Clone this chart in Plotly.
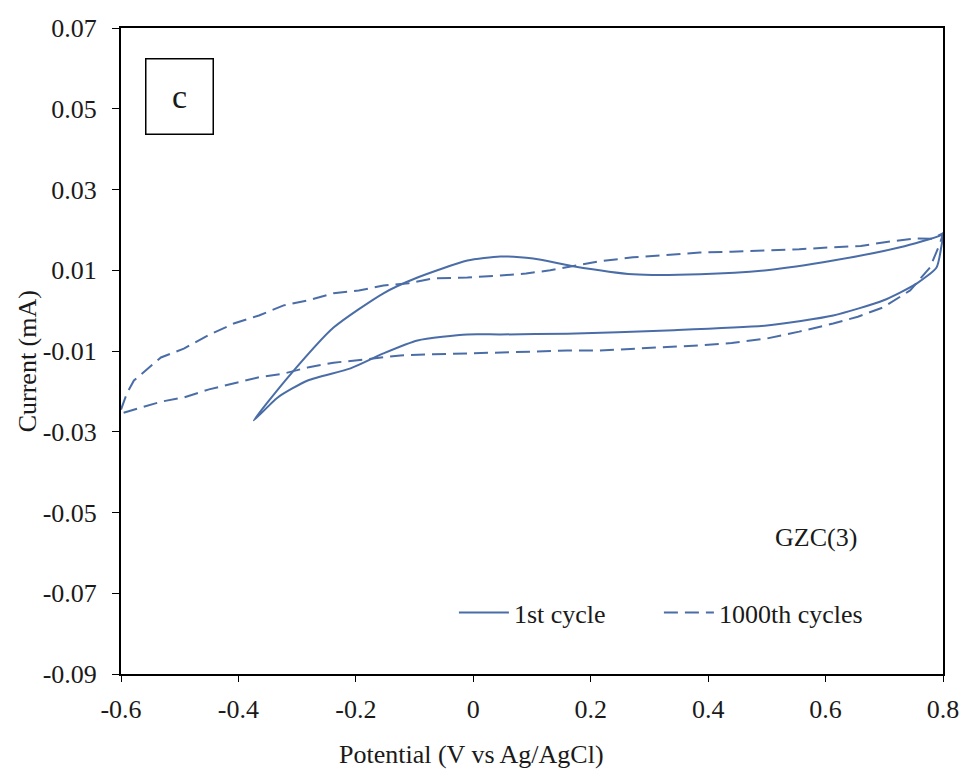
import plotly.graph_objects as go

# 1st cycle (solid): anodic branch then cathodic branch
cyc1_x = [-0.374, -0.316, -0.238, -0.153, -0.095, -0.010, 0.046, 0.102, 0.170, 0.272,
          0.386, 0.500, 0.613, 0.727, 0.795, 0.800,
          0.797, 0.789, 0.755, 0.698, 0.613, 0.500, 0.330, 0.160, 0.046, -0.010,
          -0.095, -0.153, -0.209, -0.282, -0.333, -0.374]
cyc1_y = [-0.0272, -0.0166, -0.0042, 0.0043, 0.0082, 0.0124, 0.0134, 0.0129, 0.0110, 0.0090,
          0.0090, 0.0100, 0.0124, 0.0157, 0.0186, 0.0192,
          0.0157, 0.0107, 0.0067, 0.0025, -0.0012, -0.0037, -0.0049, -0.0057, -0.0059, -0.0059,
          -0.0074, -0.0106, -0.0143, -0.0173, -0.0215, -0.0272]

# 1000th cycle (dashed)
cyc1000_x = [-0.600, -0.590, -0.578, -0.532, -0.493, -0.450, -0.408, -0.365, -0.323, -0.280,
             -0.238, -0.195, -0.153, -0.110, -0.068, -0.010, 0.046, 0.090, 0.131, 0.160,
             0.215, 0.272, 0.330, 0.386, 0.440, 0.500, 0.555, 0.613, 0.660, 0.698, 0.755,
             0.780, 0.800,
             0.795, 0.778, 0.744, 0.698, 0.655, 0.613, 0.555, 0.500, 0.440, 0.386, 0.330,
             0.272, 0.215, 0.160, 0.100, 0.046, -0.010, -0.068, -0.124, -0.180, -0.238,
             -0.280, -0.323, -0.365, -0.408, -0.450, -0.493, -0.530, -0.566, -0.600]
cyc1000_y = [-0.0245, -0.0205, -0.0173, -0.0116, -0.0094, -0.0060, -0.0032, -0.0012, 0.0013, 0.0026,
             0.0043, 0.0050, 0.0062, 0.0068, 0.0080, 0.0082, 0.0087, 0.0092, 0.0100, 0.0107,
             0.0122, 0.0132, 0.0138, 0.0144, 0.0146, 0.0149, 0.0152, 0.0157, 0.0160, 0.0169, 0.0179,
             0.0178, 0.0191,
             0.0167, 0.0107, 0.0050, 0.0008, -0.0015, -0.0032, -0.0052, -0.0069, -0.0080, -0.0086, -0.0090,
             -0.0094, -0.0099, -0.0099, -0.0102, -0.0104, -0.0106, -0.0108, -0.0111, -0.0120, -0.0129,
             -0.0140, -0.0156, -0.0165, -0.0181, -0.0195, -0.0215, -0.0225, -0.0240, -0.0255]

x_ticks = [-0.6, -0.4, -0.2, 0, 0.2, 0.4, 0.6, 0.8]
x_labels = ["-0.6", "-0.4", "-0.2", "0", "0.2", "0.4", "0.6", "0.8"]
y_ticks = [0.07, 0.05, 0.03, 0.01, -0.01, -0.03, -0.05, -0.07, -0.09]
y_labels = ["0.07", "0.05", "0.03", "0.01", "-0.01", "-0.03", "-0.05", "-0.07", "-0.09"]

color = "#4A6DA7"
font = "Liberation Serif"
txt = "#1a1a1a"
fs = 26

fig = go.Figure()
fig.add_trace(go.Scatter(x=cyc1_x, y=cyc1_y, mode="lines", name="1st cycle",
                         line=dict(color=color, width=2, shape="spline", smoothing=0.6)))
fig.add_trace(go.Scatter(x=cyc1000_x, y=cyc1000_y, mode="lines", name="1000th cycles",
                         line=dict(color=color, width=2, dash="14px,7px")))

fig.update_layout(
    width=965, height=776,
    margin=dict(l=121, r=22, t=28, b=102, autoexpand=False),
    paper_bgcolor="white", plot_bgcolor="white",
    font=dict(family=font, size=fs, color=txt),
    showlegend=True,
    legend=dict(orientation="h", x=0.405, y=0.095, xanchor="left", yanchor="middle",
                font=dict(family=font, size=fs, color=txt), bgcolor="rgba(0,0,0,0)",
                entrywidth=140, entrywidthmode="pixels", itemwidth=50),
    xaxis=dict(range=[-0.6, 0.8], tickvals=x_ticks, ticktext=x_labels,
               showline=True, linecolor="black", linewidth=2, mirror=True,
               ticks="outside", ticklen=6, tickcolor="black", showgrid=False, zeroline=False,
               ticklabelstandoff=5,
               tickfont=dict(family=font, size=fs, color=txt)),
    yaxis=dict(range=[-0.09, 0.07], tickvals=y_ticks, ticktext=y_labels,
               showline=True, linecolor="black", linewidth=2, mirror=True,
               ticks="outside", ticklen=7, tickcolor="black", showgrid=False, zeroline=False,
               ticklabelstandoff=10,
               tickfont=dict(family=font, size=fs, color=txt)),
    annotations=[
        dict(x=0.427, y=-0.125, xref="paper", yref="paper", text="Potential (V vs Ag/AgCl)",
             showarrow=False, font=dict(family=font, size=fs, color=txt),
             xanchor="center", yanchor="middle"),
        dict(x=-0.114, y=0.4845, xref="paper", yref="paper", text="Current (mA)",
             showarrow=False, textangle=-90, font=dict(family=font, size=fs, color=txt),
             xanchor="center", yanchor="middle"),
        dict(x=-0.4997, y=0.0531, xref="x", yref="y", text="c", showarrow=False,
             font=dict(family=font, size=34, color=txt),
             bordercolor="black", borderwidth=1.5, borderpad=1, width=64, height=72,
             xanchor="center", yanchor="middle"),
        dict(x=0.584, y=-0.0563, xref="x", yref="y", text="GZC(3)", showarrow=False,
             font=dict(family=font, size=fs, color=txt), xanchor="center", yanchor="middle"),
    ],
)

fig.write_html("out.html")
